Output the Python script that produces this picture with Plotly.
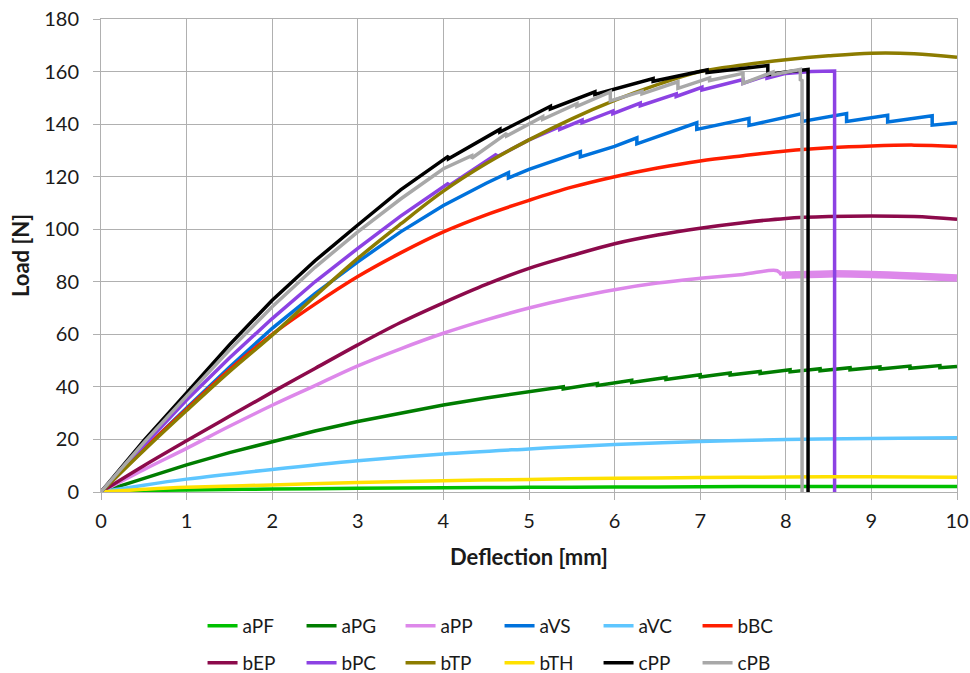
import plotly.graph_objects as go

# Load–deflection curves, one trace per specimen
aPF_x = [0, 0.5, 1, 2, 3, 4, 5, 6, 7, 8, 9, 10]
aPF_y = [0, 0.5, 0.8, 1.1, 1.4, 1.6, 1.8, 1.9, 2.0, 2.1, 2.1, 2.1]

aPG_x = [0, 0.5, 1, 1.5, 2, 2.5, 3, 3.5, 4, 4.5, 5,
         5.4, 5.4, 5.8, 5.8, 6.2, 6.2, 6.6, 6.6, 7.0, 7.0, 7.35, 7.35,
         7.7, 7.7, 8.05, 8.05, 8.4, 8.4, 8.75, 8.75, 9.1, 9.1, 9.45, 9.45,
         9.8, 9.8, 10]
aPG_y = [0, 5.3, 10.3, 15.0, 19.1, 23.2, 26.8, 30.1, 33.1, 35.8, 38.2,
         40.0, 39.2, 41.3, 40.5, 42.5, 41.7, 43.6, 42.8, 44.6, 43.8, 45.3, 44.5,
         45.9, 45.1, 46.5, 45.7, 46.9, 46.1, 47.3, 46.5, 47.6, 46.8, 47.9, 47.1,
         48.1, 47.3, 47.8]

aPP_x = [0, 0.5, 1, 1.5, 2, 2.5, 3, 3.5, 4, 4.5, 5, 5.5, 6, 6.5, 7, 7.5, 7.9, 7.95]
aPP_y = [0, 8.5, 16.6, 25.0, 33.0, 40.5, 48.0, 54.5, 60.4, 65.5, 70.0, 73.8,
         77.0, 79.5, 81.3, 82.8, 84.2, 82.5]
# noisy tail of aPP (drawn as a wider band)
aPP_tail_x = [7.95, 8.5, 9, 9.5, 10]
aPP_tail_y = [82.5, 83.0, 82.8, 82.2, 81.4]

aVS_x = [0, 0.5, 1, 1.5, 2, 2.5, 3, 3.5, 4, 4.5, 4.76, 4.76, 5, 5.6, 5.6, 6,
         6.26, 6.26, 6.96, 6.96, 7.57, 7.57, 8.19, 8.19, 8.71, 8.71,
         9.19, 9.19, 9.71, 9.71, 10]
aVS_y = [0, 16.3, 32.0, 47.5, 62.3, 75.5, 87.6, 99.0, 109.0, 117.5, 121.5, 119.5,
         122.8, 129.5, 127.5, 131.5, 134.8, 132.5, 140.5, 138.0, 142.2, 139.5,
         144.0, 141.0, 144.0, 141.0, 143.4, 140.8, 143.2, 139.6, 140.5]

aVC_x = [0, 0.5, 1, 2, 3, 4, 5, 6, 7, 8, 9, 10]
aVC_y = [0, 2.6, 4.9, 8.6, 11.9, 14.5, 16.4, 18.1, 19.2, 20.0, 20.4, 20.6]

bBC_x = [0, 0.5, 1, 1.5, 2, 2.5, 3, 3.5, 4, 4.5, 5, 5.5, 6, 6.5, 7, 7.5, 8,
         8.5, 9, 9.5, 10]
bBC_y = [0, 16.3, 31.5, 46.5, 60.0, 71.5, 82.0, 91.0, 99.0, 105.5, 111.0, 116.0,
         120.0, 123.3, 126.0, 128.0, 129.8, 131.0, 131.7, 132.0, 131.5]

bEP_x = [0, 0.5, 1, 1.5, 2, 2.5, 3, 3.5, 4, 4.5, 5, 5.5, 6, 6.5, 7, 7.5, 8,
         8.5, 9, 9.5, 10]
bEP_y = [0, 10.0, 19.5, 28.8, 38.0, 47.0, 56.0, 64.5, 72.0, 79.0, 85.1, 90.0,
         94.5, 97.8, 100.4, 102.5, 104.1, 104.8, 105.0, 104.8, 103.8]

bPC_x = [0, 0.5, 1, 1.5, 2, 2.5, 3, 3.5, 4.06, 4.06, 4.62, 4.62, 5, 5.36, 5.36,
         5.62, 5.62, 5.98, 5.98, 6.3, 6.3, 6.72, 6.72, 7.02, 7.02, 7.5, 7.5,
         7.78, 7.78, 8.0, 8.3, 8.57, 8.57]
bPC_y = [0, 17.8, 35.0, 51.0, 66.0, 80.0, 92.7, 105.0, 117.5, 116.5, 128.5, 127.5,
         134.0, 139.0, 138.0, 141.5, 140.5, 145.0, 144.0, 148.0, 147.0, 151.5, 150.5,
         154.0, 153.0, 157.0, 155.5, 158.5, 157.5, 159.3, 160.0, 160.2, 0]

bTP_x = [0, 0.5, 1, 1.5, 2, 2.5, 3, 3.5, 4, 4.5, 5, 5.5, 6, 6.5, 7, 7.5, 8,
         8.5, 9, 9.5, 10]
bTP_y = [0, 15.8, 31.0, 45.8, 59.7, 74.5, 88.9, 102.0, 114.5, 125.0, 134.0, 142.0,
         149.0, 155.0, 160.0, 162.5, 164.5, 166.0, 167.0, 166.8, 165.4]

bTH_x = [0, 0.5, 1, 2, 3, 4, 5, 6, 7, 8, 9, 10]
bTH_y = [0, 1.0, 1.8, 2.7, 3.6, 4.3, 4.8, 5.2, 5.5, 5.7, 5.8, 5.6]

cPP_x = [0, 0.5, 1, 1.5, 2, 2.5, 3, 3.5, 4.06, 4.06, 4.66, 4.66, 5.25, 5.25,
         5.77, 5.77, 6.45, 6.45, 7.08, 7.08, 7.79, 7.79, 8.0, 8.26, 8.26]
cPP_y = [0, 19.5, 37.7, 56.0, 73.0, 88.0, 101.6, 115.0, 127.8, 126.8, 138.0, 137.0,
         146.8, 145.8, 152.3, 151.3, 157.3, 156.3, 160.6, 159.6, 162.3, 158.8,
         159.8, 160.8, 0]

cPB_x = [0, 0.5, 1, 1.5, 2, 2.5, 3, 3.5, 4, 4.33, 4.33, 4.74, 4.74, 5.16, 5.16,
         5.56, 5.56, 5.95, 5.95, 6.32, 6.32, 6.74, 6.74, 7.11, 7.11, 7.5, 7.5,
         7.85, 7.85, 8.17, 8.17, 8.19, 8.19]
cPB_y = [0, 18.8, 36.5, 54.0, 70.5, 85.5, 99.0, 111.5, 123.0, 128.0, 127.0, 136.5,
         135.5, 142.8, 141.8, 147.8, 146.8, 152.3, 148.8, 152.5, 151.5, 156.1, 153.6,
         157.6, 156.6, 159.3, 155.5, 159.8, 158.8, 160.8, 156.5, 157.0, 0]

series = [
    ("aPF", aPF_x, aPF_y, "#00c000", "spline", "legend"),
    ("aPG", aPG_x, aPG_y, "#007d00", "linear", "legend"),
    ("aPP", aPP_x, aPP_y, "#dd88ea", "spline", "legend"),
    ("aVS", aVS_x, aVS_y, "#0072dc", "linear", "legend"),
    ("aVC", aVC_x, aVC_y, "#5ec6ff", "spline", "legend"),
    ("bBC", bBC_x, bBC_y, "#ff1e00", "spline", "legend"),
    ("bEP", bEP_x, bEP_y, "#8c0a4b", "spline", "legend2"),
    ("bPC", bPC_x, bPC_y, "#8c42e3", "linear", "legend2"),
    ("bTP", bTP_x, bTP_y, "#8c7c00", "spline", "legend2"),
    ("bTH", bTH_x, bTH_y, "#ffe100", "spline", "legend2"),
    ("cPP", cPP_x, cPP_y, "#000000", "linear", "legend2"),
    ("cPB", cPB_x, cPB_y, "#a8a8a8", "linear", "legend2"),
]

fig = go.Figure()
for name, xs, ys, color, shape, leg in series:
    fig.add_trace(go.Scatter(
        x=xs, y=ys, name=name, mode="lines", legend=leg, legendgroup=name,
        line=dict(color=color, width=3.5, shape=shape),
    ))
    if name == "aPP":
        fig.add_trace(go.Scatter(
            x=aPP_tail_x, y=aPP_tail_y, name=name, mode="lines",
            legend=leg, legendgroup=name, showlegend=False,
            line=dict(color=color, width=7.5, shape="spline"),
        ))

FONT = "Lato, 'Open Sans', sans-serif"
GRID = "#b0b0b0"
axis_common = dict(
    showgrid=True, gridcolor=GRID, gridwidth=1,
    showline=True, linecolor=GRID, linewidth=1, mirror=True,
    zeroline=False, ticks="outside", ticklen=7, tickcolor=GRID,
    automargin=False,
    tickfont=dict(family=FONT, size=20, color="#1a1a1a"),
)

legend_common = dict(
    orientation="h", xref="container", yref="container",
    x=0.515, xanchor="center", yanchor="middle", entrywidth=54,
    font=dict(family=FONT, size=19, color="#1a1a1a"),
    bgcolor="rgba(0,0,0,0)",
)

fig.update_layout(
    width=970, height=673,
    margin=dict(l=101, r=13, t=19, b=181),
    paper_bgcolor="white", plot_bgcolor="white",
    font=dict(family=FONT, color="#1a1a1a"),
    xaxis=dict(range=[0, 10], dtick=1, ticklabelstandoff=4,
               title=dict(text="<b>Deflection [mm]</b>", standoff=18,
                          font=dict(family=FONT, size=22, color="#1a1a1a")),
               **axis_common),
    yaxis=dict(range=[0, 180], dtick=20, ticklabelstandoff=10,
               title=dict(text="<b>Load [N]</b>", standoff=8,
                          font=dict(family=FONT, size=22, color="#1a1a1a")),
               **axis_common),
    legend=dict(y=0.07, **legend_common),
    legend2=dict(y=0.015, **legend_common),
)

fig.write_html("out.html")
